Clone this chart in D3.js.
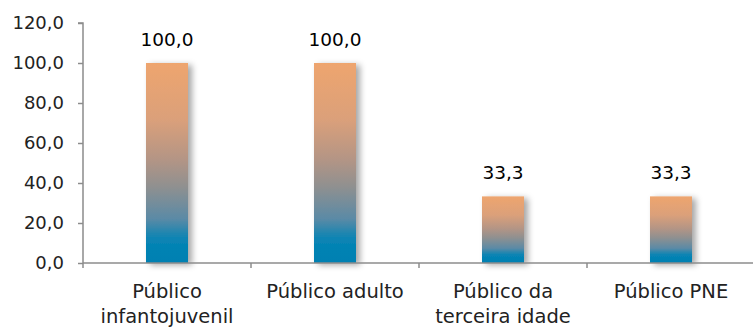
<!DOCTYPE html>
<html>
<head>
<meta charset="utf-8">
<script src="https://cdn.jsdelivr.net/npm/d3@7"></script>
<style>
  body { margin: 0; background: #fff; }
  text { font-family: "DejaVu Sans", sans-serif; }
</style>
</head>
<body>
<script>
"use strict";

const categories = [["Público", "infantojuvenil"], ["Público adulto"], ["Público da", "terceira idade"], ["Público PNE"]];
const values = [100.0, 100.0, 33.3, 33.3];
const yTicks = [0, 20, 40, 60, 80, 100, 120];

const width = 753, height = 327;
const margin = { top: 23, right: -2, bottom: 64, left: 83 };

const svg = d3.select("body").append("svg")
  .attr("width", width)
  .attr("height", height);

const defs = svg.append("defs");
const grad = defs.append("linearGradient")
  .attr("id", "barGrad")
  .attr("x1", 0).attr("y1", 0).attr("x2", 0).attr("y2", 1);
[["0%", "#eea56e"], ["28%", "#dba07a"], ["48%", "#b49585"], ["62%", "#8f9090"],
 ["78%", "#5a8aa6"], ["88%", "#0884b4"], ["100%", "#0080b2"]]
  .forEach(([o, c]) => grad.append("stop").attr("offset", o).attr("stop-color", c));

const shadow = defs.append("filter").attr("id", "shadow")
  .attr("x", "-20%").attr("y", "-10%").attr("width", "160%").attr("height", "130%");
shadow.append("feDropShadow")
  .attr("dx", 4).attr("dy", 2).attr("stdDeviation", 3)
  .attr("flood-color", "#000").attr("flood-opacity", 0.35);

const x = d3.scaleBand()
  .domain(d3.range(categories.length))
  .range([margin.left, width - margin.right])
  .paddingInner(0).paddingOuter(0);

const y = d3.scaleLinear()
  .domain([0, 120])
  .range([height - margin.bottom, margin.top]);

const barW = x.bandwidth() * 0.25;
const fmt = d => d3.format(".1f")(d).replace(".", ",");

// bars
svg.append("g")
  .selectAll("rect")
  .data(values)
  .join("rect")
    .attr("x", (d, i) => x(i) + x.bandwidth() / 2 - barW / 2)
    .attr("y", d => y(d))
    .attr("width", barW)
    .attr("height", d => y(0) - y(d))
    .attr("fill", "url(#barGrad)")
    .attr("filter", "url(#shadow)");

// value labels
svg.append("g")
  .selectAll("text")
  .data(values)
  .join("text")
    .attr("x", (d, i) => x(i) + x.bandwidth() / 2)
    .attr("y", d => y(d) - 17)
    .attr("text-anchor", "middle")
    .attr("font-size", 18.5)
    .attr("fill", "#000")
    .text(fmt);

// y axis
const yAxis = svg.append("g")
  .attr("transform", `translate(${margin.left},0)`)
  .call(d3.axisLeft(y).tickValues(yTicks).tickSize(5).tickPadding(14).tickFormat(fmt));
yAxis.select(".domain").attr("stroke", "#8c8c8c").attr("stroke-width", 1.5)
  .attr("d", `M-5,${y(120)}H0V${y(0)}`);
yAxis.selectAll(".tick line").attr("stroke", "#8c8c8c").attr("stroke-width", 1.5);
yAxis.selectAll(".tick text").attr("font-size", 18).attr("fill", "#222").attr("font-family", "DejaVu Sans");

// x axis
const xAxis = svg.append("g")
  .attr("transform", `translate(0,${y(0)})`);
xAxis.append("line")
  .attr("x1", margin.left).attr("x2", width)
  .attr("stroke", "#8c8c8c").attr("stroke-width", 1.5);
xAxis.selectAll(".xt")
  .data(d3.range(categories.length + 1))
  .join("line")
    .attr("class", "xt")
    .attr("x1", i => margin.left + i * x.step())
    .attr("x2", i => margin.left + i * x.step())
    .attr("y1", 0).attr("y2", 5)
    .attr("stroke", "#8c8c8c").attr("stroke-width", 1.5);

const labels = xAxis.selectAll(".cat")
  .data(categories)
  .join("text")
    .attr("class", "cat")
    .attr("text-anchor", "middle")
    .attr("font-size", 19.5)
    .attr("fill", "#222")
    .attr("transform", (d, i) => `translate(${x(i) + x.bandwidth() / 2},0)`);
labels.selectAll("tspan")
  .data(d => d)
  .join("tspan")
    .attr("x", 0)
    .attr("y", (d, j) => 35 + j * 25)
    .text(d => d);
</script>
</body>
</html>
